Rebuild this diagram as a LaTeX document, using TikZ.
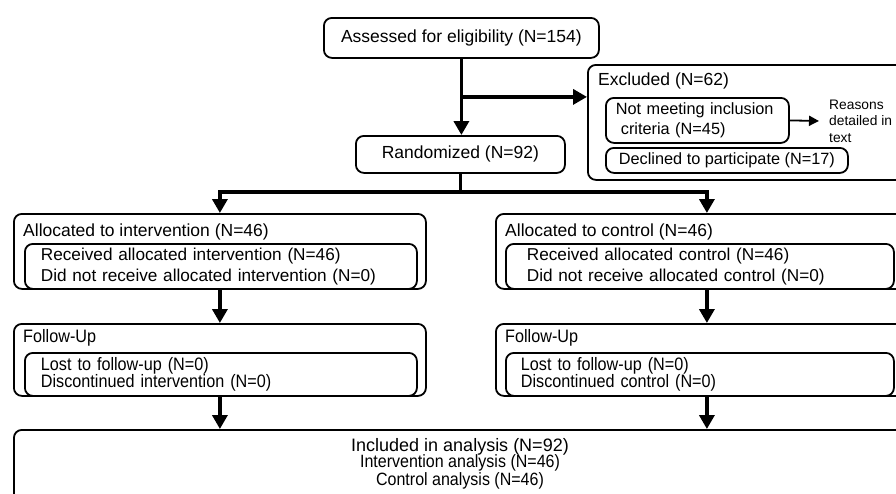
\documentclass[tikz,border=0pt]{standalone}
\usepackage{fontspec}
\setmainfont{Liberation Sans}
\newfontfamily\narrowfont[FakeStretch=0.9]{Liberation Sans}
\usetikzlibrary{arrows.meta,positioning}

\newcommand{\txtmain}{\fontsize{17.5}{21}\selectfont}
\newcommand{\txtsub}{\fontsize{16.3}{20}\selectfont}
\newcommand{\txtnote}{\fontsize{13.8}{16.5}\selectfont}
\newcommand{\txtnarrow}{\narrowfont\fontsize{18}{17.5}\selectfont}

\tikzset{
  box/.style={draw, line width=1.8pt, rounded corners=8pt, inner sep=0pt, anchor=north west},
  inbox/.style={box, align=left, inner xsep=16pt},
  title/.style={anchor=west, inner sep=0pt},
  conn/.style={line width=3.6pt},
  arr/.style={conn, -{Triangle[width=15pt,length=14pt]}},
  thinarr/.style={line width=1.8pt, -{Triangle[width=10pt,length=10pt]}},
}

\begin{document}
\begin{tikzpicture}[x=1pt,y=-1pt,font=\txtmain]
\clip (0,0) rectangle (896,493);
\fill[white] (0,0) rectangle (896,493);

% enrolment
\node[box, minimum width=275, minimum height=40] (assess) at (323,17) {Assessed for eligibility (N=154)};
\node[box, minimum width=209, minimum height=37] (rand) at (355,135) {Randomized (N=92)};

% excluded
\node[box, minimum width=340, minimum height=115] (excl) at (587,64) {};
\node[title] (excltitle) at (598,81) {Excluded (N=62)};
\node[box, align=left, inner xsep=10pt, text width=163, minimum height=45, font=\txtsub] (notmeet) at (605,97)
  {Not meeting inclusion\\\hspace*{5pt}criteria (N=45)};
\node[anchor=west, align=left, inner xsep=10pt, inner ysep=0pt, font=\txtnote] (reasons) at (819,121)
  {Reasons\\detailed in\\text};
\node[box, minimum width=242, minimum height=25, font=\txtsub] (decl) at (605,147) {Declined to participate (N=17)};

% allocation
\node[box, minimum width=412, minimum height=75] (allocI) at (13,213) {};
\node[title] (allocItitle) at (23,232) {Allocated to intervention (N=46)};
\node[inbox, text width=360, minimum height=45, font=\fontsize{17.2}{21}\selectfont] (recvI) at (24,243)
  {Received allocated intervention (N=46)\\Did not receive allocated intervention (N=0)};

\node[box, minimum width=422, minimum height=75] (allocC) at (495,213) {};
\node[title] (allocCtitle) at (505,232) {Allocated to control (N=46)};
\node[inbox, inner xsep=21pt, text width=346, minimum height=45, font=\fontsize{17.2}{21}\selectfont] (recvC) at (505,243)
  {Received allocated control (N=46)\\Did not receive allocated control (N=0)};

% follow-up
\node[box, minimum width=412, minimum height=72] (fuI) at (13,323) {};
\node[title, font=\txtnarrow] (fuItitle) at (23,338) {Follow-Up};
\node[inbox, text width=360, minimum height=43, font=\txtnarrow] (lostI) at (24,352)
  {Lost to follow-up (N=0)\\Discontinued intervention (N=0)};

\node[box, minimum width=422, minimum height=72] (fuC) at (495,323) {};
\node[title, font=\txtnarrow] (fuCtitle) at (505,338) {Follow-Up};
\node[inbox, inner xsep=15pt, text width=358, minimum height=43, font=\txtnarrow] (lostC) at (505,352)
  {Lost to follow-up (N=0)\\Discontinued control (N=0)};

% analysis
\node[box, minimum width=950, minimum height=100] (incl) at (13,429) {};
\node[inner sep=0pt, font=\fontsize{18}{21}\selectfont] (inclhead) at (460,447) {Included in analysis (N=92)};
\node[inner sep=0pt, align=center, font=\narrowfont\fontsize{17.8}{16}\selectfont] (inclsub) at (460,472)
  {Intervention analysis (N=46)\\Control analysis (N=46)};

% connectors
\path (assess.south) -- coordinate[midway] (tap) (assess.south |- rand.north);
\draw[arr] (assess.south) -- (assess.south |- rand.north);
\draw[arr] (tap) -- (tap -| excl.west);
\draw[thinarr] (notmeet.east) -- (reasons.west);
\draw[conn] (rand.south) -- ++(0,18) coordinate (fork);
\draw[arr] (fork) -| (allocI.north);
\draw[arr] (fork) -| (allocC.north);
\draw[arr] (allocI.south) -- (fuI.north);
\draw[arr] (allocC.south) -- (fuC.north);
\draw[arr] (fuI.south) -- (fuI.south |- incl.north);
\draw[arr] (fuC.south) -- (fuC.south |- incl.north);
\end{tikzpicture}
\end{document}
